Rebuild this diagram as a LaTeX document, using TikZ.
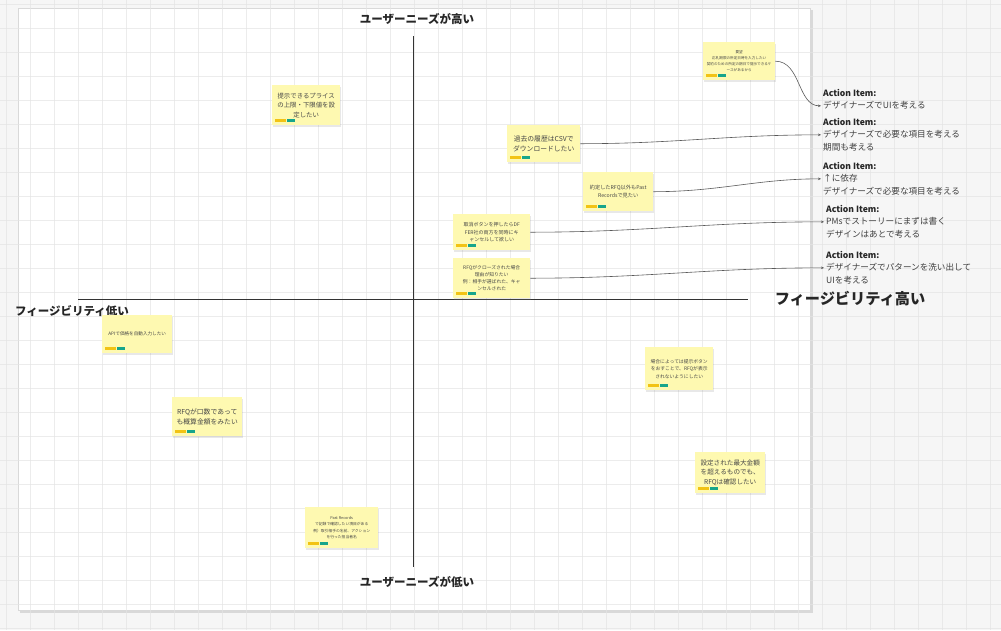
\documentclass[tikz,border=0pt]{standalone}
\usepackage{fontspec}
\setmainfont{Noto Sans CJK JP}
\usetikzlibrary{positioning,arrows.meta,shadows}

\definecolor{canvas}{HTML}{F6F6F6}
\definecolor{gridgray}{HTML}{E4E4E4}
\definecolor{stickyyellow}{HTML}{FEF9B1}
\definecolor{tagyellow}{HTML}{F2C314}
\definecolor{tagteal}{HTML}{17A58B}

\tikzset{
  sticky/.style={fill=stickyyellow, anchor=north west, align=center, inner sep=2pt,
    text=black!72, drop shadow={opacity=0.18, shadow xshift=0.6pt, shadow yshift=-1.4pt}},
  aititle/.style={anchor=west, inner sep=0pt, text=black!85,
    font=\bfseries\fontsize{8.6}{10}\selectfont},
  aibody/.style={align=left, inner sep=0pt, text=black!75,
    font=\fontsize{8.6}{12.5}\selectfont},
  axislabel/.style={inner sep=0pt, text=black!85, font=\bfseries\fontsize{11.5}{13}\selectfont},
  conn/.style={draw=black!65, line width=0.6pt, -{Stealth[length=3pt,width=2.6pt]}, shorten >=2pt},
}

\begin{document}
\begin{tikzpicture}[x=1pt,y=-1pt]
  \useasboundingbox (0,0) rectangle (1001,630);
  \fill[canvas] (0,0) rectangle (1001,630);
  % board
  \fill[black!15] (20,10) rectangle (813,613);
  \filldraw[fill=white, draw=black!15] (18,8) rectangle (810,610);
  % grid
  \foreach \x in {6,30,...,1000} {
    \draw[gridgray, line width=0.5pt, opacity=0.7] (\x,0) -- (\x,630);
  }
  \foreach \y in {4,28,...,630} {
    \draw[gridgray, line width=0.5pt, opacity=0.7] (0,\y) -- (1001,\y);
  }

  % axes
  \coordinate (ytop) at (413,36);
  \coordinate (ybot) at (413,567);
  \coordinate (xleft) at (78,299);
  \coordinate (xright) at (748,299);
  \draw[black!80, line width=0.8pt] (ytop) -- (ybot);
  \draw[black!80, line width=0.8pt] (xleft) -- (xright);
  \node[axislabel] (needhigh) at (417,19) {ユーザーニーズが高い};
  \node[axislabel] (needlow) at (417,582) {ユーザーニーズが低い};
  \node[axislabel] (feaslow) at (72,311) {フィージビリティ低い};
  \node[axislabel, font=\bfseries\fontsize{15.2}{17}\selectfont] (feashigh) at (850,299) {フィージビリティ高い};

  % sticky notes
  \node[sticky, minimum width=72pt, minimum height=38pt, font=\fontsize{3.6}{6}\selectfont] (s1) at (703,42)
    {要望\\応札期限の所定日時を入力したい\\契約のための所定の期日で提示できるケ\\ースがあるから};
  \node[sticky, minimum width=68pt, minimum height=40pt, font=\fontsize{6.4}{9.6}\selectfont] (s2) at (272,85)
    {提示できるプライス\\の上限・下限値を設\\定したい};
  \node[sticky, minimum width=73pt, minimum height=37pt, font=\fontsize{6.8}{10.5}\selectfont] (s3) at (507,125)
    {過去の履歴はCSVで\\ダウンロードしたい};
  \node[sticky, minimum width=70pt, minimum height=39pt, font=\fontsize{5.2}{8.5}\selectfont] (s4) at (583,172)
    {約定したRFQ以外もPast\\Recordsで見たい};
  \node[sticky, minimum width=77pt, minimum height=36pt, font=\fontsize{5}{7.8}\selectfont] (s5) at (453,214)
    {取消ボタンを押したらDF\\FER社の両方を同時にキ\\ャンセルして欲しい};
  \node[sticky, minimum width=77pt, minimum height=40pt, font=\fontsize{4.8}{7}\selectfont] (s6) at (453,258)
    {RFQがクローズされた場合\\理由が知りたい\\例：相手が選ばれた、キャ\\ンセルされた};
  \node[sticky, minimum width=70pt, minimum height=38pt, font=\fontsize{4.6}{7}\selectfont] (s7) at (102,315)
    {APIで価格を自動入力したい};
  \node[sticky, minimum width=68pt, minimum height=43pt, font=\fontsize{4.8}{7.4}\selectfont] (s8) at (645,347)
    {場合によっては提示ボタン\\をおすことで、RFQが表示\\されないようにしたい};
  \node[sticky, minimum width=70pt, minimum height=39pt, font=\fontsize{6.8}{10.5}\selectfont] (s9) at (172,397)
    {RFQが口数であって\\も概算金額をみたい};
  \node[sticky, minimum width=70pt, minimum height=41pt, font=\fontsize{6.6}{9.6}\selectfont] (s10) at (695,452)
    {設定された最大金額\\を超えるものでも、\\RFQは確認したい};
  \node[sticky, minimum width=73pt, minimum height=41pt, font=\fontsize{3.8}{6.2}\selectfont] (s11) at (305,507)
    {Past Records\\で記録で確認したい項目がある\\例）取引相手の名前、アクション\\を行った担当者名};

  % tags
  \foreach \n in {s1,s2,s3,s4,s5,s6,s7,s8,s9,s10,s11} {
    \fill[tagyellow] (\n.south west) ++(3,-3) rectangle ++(11,-3.5);
    \fill[tagteal] (\n.south west) ++(15,-3) rectangle ++(8,-3.5);
  }

  % action items
  \node[aititle] (t1) at (823,93) {Action Item:};
  \node[aibody, below right=4.5pt and 0pt of t1.south west] (b1) {デザイナーズでUIを考える};
  \node[aititle] (t2) at (823,122) {Action Item:};
  \node[aibody, below right=4.5pt and 0pt of t2.south west] (b2) {デザイナーズで必要な項目を考える\\期間も考える};
  \node[aititle] (t3) at (823,166) {Action Item:};
  \node[aibody, below right=4.5pt and 0pt of t3.south west] (b3) {↑に依存\\デザイナーズで必要な項目を考える};
  \node[aititle] (t4) at (826,209) {Action Item:};
  \node[aibody, below right=4.5pt and 0pt of t4.south west] (b4) {PMsでストーリーにまずは書く\\デザインはあとで考える};
  \node[aititle] (t5) at (826,255) {Action Item:};
  \node[aibody, below right=4.5pt and 0pt of t5.south west] (b5) {デザイナーズでパターンを洗い出して\\UIを考える};

  % connectors
  \draw[conn] (s1.east) to[out=0,in=180] ([yshift=-4.5pt]b1.north west);
  \draw[conn] (s3.east) to[out=0,in=180] ([yshift=-4.5pt]b2.north west);
  \draw[conn] (s4.east) to[out=0,in=180] ([yshift=-4.5pt]b3.north west);
  \draw[conn] (s5.east) to[out=0,in=180] ([yshift=-4.5pt]b4.north west);
  \draw[conn] (s6.east) to[out=0,in=180] ([yshift=-4.5pt]b5.north west);
\end{tikzpicture}
\end{document}
